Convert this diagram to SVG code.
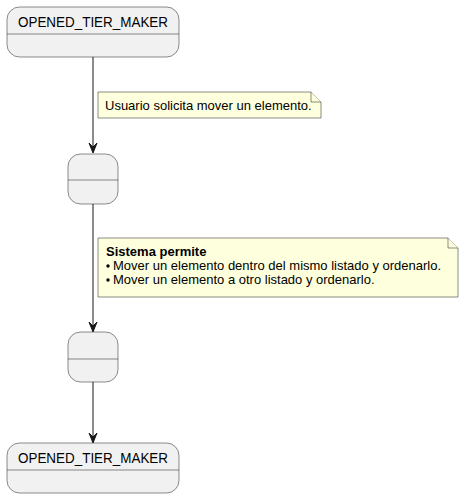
<svg xmlns="http://www.w3.org/2000/svg" width="464" height="498" viewBox="0 0 464 498">
<style>
.st{fill:#F1F1F1;stroke:#181818;stroke-width:0.5}
.dv{stroke:#181818;stroke-width:0.5}
.nt{fill:#FEFFDD;stroke:#181818;stroke-width:0.5}
.ln{stroke:#181818;stroke-width:1;fill:none}
.ah{fill:#181818;stroke:#181818;stroke-width:1}
.tn{font-family:"Liberation Sans",Arial,sans-serif;font-size:14px;fill:#000}
.tt{font-family:"Liberation Sans",Arial,sans-serif;font-size:13px;fill:#000}
.tb{font-family:"Liberation Sans",Arial,sans-serif;font-size:13px;font-weight:bold;fill:#000}
</style>
<rect width="464" height="498" fill="#FFFFFF"/>
<g id="connectors">
<line class="ln" x1="93" y1="57" x2="93" y2="152"/>
<polygon class="ah" points="89,143 93,153 97,143 93,147"/>
<line class="ln" x1="93" y1="204" x2="93" y2="331"/>
<polygon class="ah" points="89,322 93,332 97,322 93,326"/>
<line class="ln" x1="93" y1="382" x2="93" y2="442"/>
<polygon class="ah" points="89,433 93,443 97,433 93,437"/>
</g>
<g id="state1">
<rect class="st" x="7" y="7" width="172" height="50" rx="12.5" ry="12.5"/>
<line class="dv" x1="7" y1="34" x2="179" y2="34"/>
<text class="tn" x="93" y="27" text-anchor="middle" textLength="150" lengthAdjust="spacingAndGlyphs">OPENED_TIER_MAKER</text>
</g>
<g id="note1">
<path class="nt" d="M98,92 L311,92 L321,102 L321,118 L98,118 Z"/>
<path class="nt" d="M311,92 L311,102 L321,102"/>
<text class="tt" x="105" y="109.5">Usuario solicita mover un elemento.</text>
</g>
<g id="state2">
<rect class="st" x="68" y="154" width="50" height="50" rx="12.5" ry="12.5"/>
<line class="dv" x1="68" y1="180" x2="118" y2="180"/>
</g>
<g id="note2">
<path class="nt" d="M98,238 L448,238 L458,248 L458,297 L98,297 Z"/>
<path class="nt" d="M448,238 L448,248 L458,248"/>
<text class="tb" x="106" y="256">Sistema permite</text>
<circle cx="108" cy="266" r="1.7" fill="#000"/>
<text class="tt" x="113" y="270">Mover un elemento dentro del mismo listado y ordenarlo.</text>
<circle cx="108" cy="280" r="1.7" fill="#000"/>
<text class="tt" x="113" y="284">Mover un elemento a otro listado y ordenarlo.</text>
</g>
<g id="state3">
<rect class="st" x="68" y="332" width="50" height="50" rx="12.5" ry="12.5"/>
<line class="dv" x1="68" y1="359" x2="118" y2="359"/>
</g>
<g id="state4">
<rect class="st" x="7" y="443" width="172" height="50" rx="12.5" ry="12.5"/>
<line class="dv" x1="7" y1="470" x2="179" y2="470"/>
<text class="tn" x="93" y="463" text-anchor="middle" textLength="150" lengthAdjust="spacingAndGlyphs">OPENED_TIER_MAKER</text>
</g>
</svg>
